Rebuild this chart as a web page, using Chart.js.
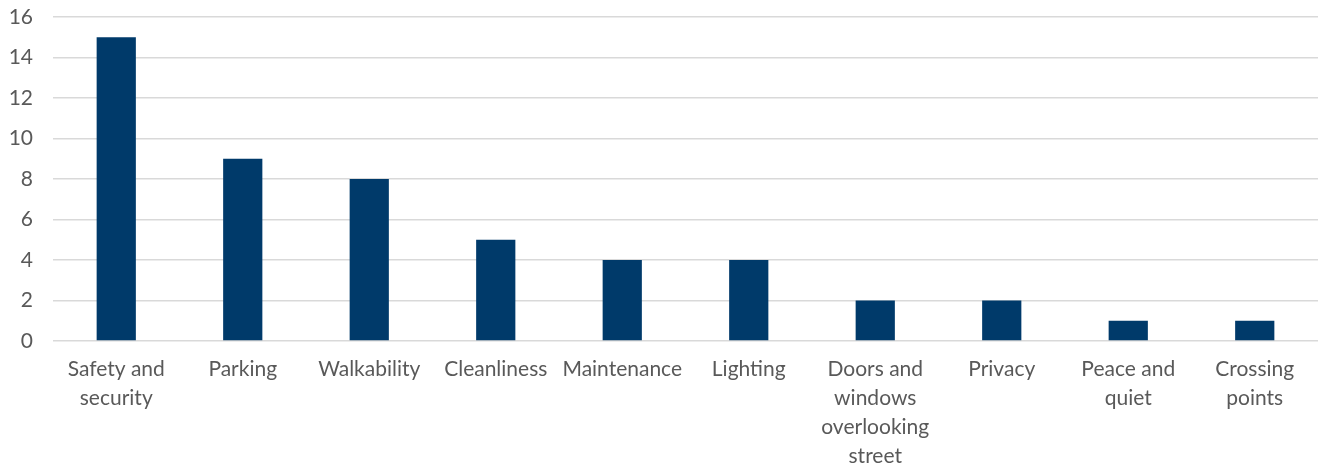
<!DOCTYPE html>
<html>
<head>
<meta charset="utf-8">
<script src="https://cdn.jsdelivr.net/npm/chart.js@4.4.1/dist/chart.umd.min.js"></script>
<style>
  html, body { margin: 0; padding: 0; background: #ffffff; }
  #wrap { width: 1322px; height: 469px; position: relative; }
</style>
</head>
<body>
<div id="wrap"><canvas id="c" width="1322" height="469"></canvas></div>
<script>
// Categories (multi-line labels as arrays of lines)
const categories = [
  ['Safety and', 'security'],
  'Parking',
  'Walkability',
  'Cleanliness',
  'Maintenance',
  'Lighting',
  ['Doors and', 'windows', 'overlooking', 'street'],
  'Privacy',
  ['Peace and', 'quiet'],
  ['Crossing', 'points']
];

// Number of mentions per category
const counts = [15, 9, 8, 5, 4, 4, 2, 2, 1, 1];

// Y axis range
const yMin = 0;
const yMax = 16;
const yStep = 2;

const barColor = '#003a6a';
const gridColor = '#d9d9d9';
const textColor = '#595959';
const fontFamily = 'Lato, "Noto Sans", sans-serif';

new Chart(document.getElementById('c'), {
  type: 'bar',
  data: {
    labels: categories,
    datasets: [{
      data: counts,
      backgroundColor: barColor,
      borderWidth: 0,
      barPercentage: 0.31,
      categoryPercentage: 1.0
    }]
  },
  options: {
    responsive: false,
    animation: false,
    devicePixelRatio: 1,
    layout: { padding: { top: 17, right: 4, left: 0, bottom: 0 } },
    plugins: {
      legend: { display: false },
      tooltip: { enabled: false }
    },
    scales: {
      x: {
        grid: { display: false, drawTicks: false },
        border: { display: false },
        ticks: {
          color: textColor,
          font: { family: fontFamily, size: 21, lineHeight: 1.38 },
          padding: 14,
          maxRotation: 0,
          autoSkip: false
        },
        afterFit: (s) => {
          s.height = 128;
          s.paddingLeft = 0;
          s.paddingRight = 0;
        }
      },
      y: {
        min: yMin,
        max: yMax,
        grid: { color: gridColor, lineWidth: 1.5, drawTicks: false },
        border: { display: false },
        ticks: {
          stepSize: yStep,
          color: textColor,
          font: { family: fontFamily, size: 21 },
          padding: 20
        },
        afterFit: (s) => {
          s.width = 53;
          s.paddingTop = 0;
          s.paddingBottom = 0;
        }
      }
    }
  }
});
</script>
</body>
</html>
